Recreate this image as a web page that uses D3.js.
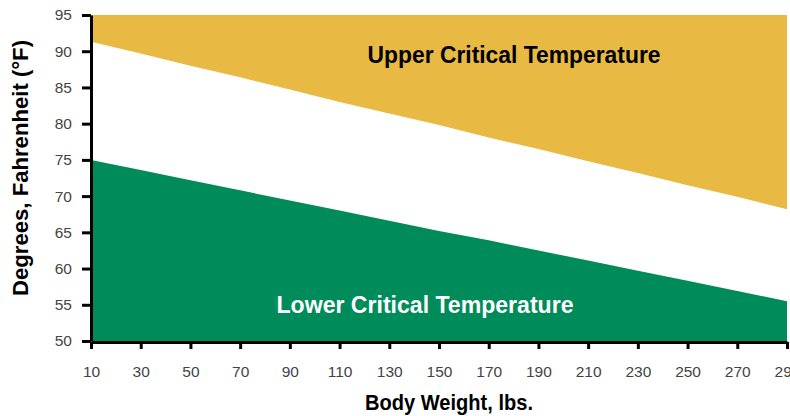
<!DOCTYPE html>
<html><head><meta charset="utf-8">
<script src="https://cdn.jsdelivr.net/npm/d3@7"></script>
<style>body{margin:0;background:#fff}svg{display:block}</style>
</head><body>
<svg id="c" width="790" height="416"></svg>
<script>
const weights = [10,30,50,70,90,110,130,150,170,190,210,230,250,270,290];
const upperCritical = [91.3,89.7,88.0,86.4,84.7,83.0,81.4,79.8,78.1,76.5,74.8,73.2,71.5,69.9,68.2];
const lowerCritical = [75.0,73.6,72.2,70.8,69.4,68.0,66.6,65.2,63.9,62.5,61.1,59.7,58.3,56.9,55.5];
const yTicks = [50,55,60,65,70,75,80,85,90,95];
const xTicks = [10,30,50,70,90,110,130,150,170,190,210,230,250,270,290];

const svg = d3.select('#c');
const L=91, R=787, T=15, B=341;
const x = d3.scaleLinear().domain([10,290]).range([L,R]);
const y = d3.scaleLinear().domain([50,95]).range([B,T]);
const data = weights.map((w,i)=>({w,u:upperCritical[i],l:lowerCritical[i]}));

svg.append('path').datum(data)
  .attr('fill','#E8B943')
  .attr('d', d3.area().x(d=>x(d.w)).y0(y(95)).y1(d=>y(d.u)));
svg.append('path').datum(data)
  .attr('fill','#008B5A')
  .attr('d', d3.area().x(d=>x(d.w)).y0(y(50)).y1(d=>y(d.l)));

const tickFont = '"Liberation Sans", Arial, sans-serif';
const yAx = svg.append('g').attr('transform',`translate(${L},0)`)
  .call(d3.axisLeft(y).tickValues(yTicks).tickSizeInner(9).tickSizeOuter(0).tickPadding(10));
const xAx = svg.append('g').attr('transform',`translate(0,${B+1})`)
  .call(d3.axisBottom(x).tickValues(xTicks).tickSizeInner(7).tickSizeOuter(0).tickPadding(17));
[yAx,xAx].forEach(a=>{
  a.selectAll('path.domain').attr('stroke','#000').attr('stroke-width',3);
  a.selectAll('line').attr('stroke','#000').attr('stroke-width',3);
  a.selectAll('text').attr('fill','#444').style('font-family',tickFont).style('font-size','15.5px');
});

const titleFont = '"Liberation Sans Narrow", "Liberation Sans", Arial, sans-serif';
svg.append('text').text('Upper Critical Temperature')
  .attr('x',514).attr('y',63).attr('text-anchor','middle')
  .attr('textLength',293).attr('lengthAdjust','spacingAndGlyphs')
  .style('font-family',titleFont).style('font-weight','bold').style('font-size','24px').attr('fill','#000');
svg.append('text').text('Lower Critical Temperature')
  .attr('x',425).attr('y',313).attr('text-anchor','middle')
  .attr('textLength',297).attr('lengthAdjust','spacingAndGlyphs')
  .style('font-family',titleFont).style('font-weight','bold').style('font-size','24px').attr('fill','#fff');
svg.append('text').text('Body Weight, lbs.')
  .attr('x',449).attr('y',410).attr('text-anchor','middle')
  .attr('textLength',168).attr('lengthAdjust','spacingAndGlyphs')
  .style('font-family',titleFont).style('font-weight','bold').style('font-size','22px').attr('fill','#000');
svg.append('text').text('Degrees, Fahrenheit (°F)')
  .attr('transform','translate(28,168) rotate(-90)').attr('text-anchor','middle')
  .attr('textLength',256).attr('lengthAdjust','spacingAndGlyphs')
  .style('font-family',titleFont).style('font-weight','bold').style('font-size','22px').attr('fill','#000');
</script>
</body></html>
